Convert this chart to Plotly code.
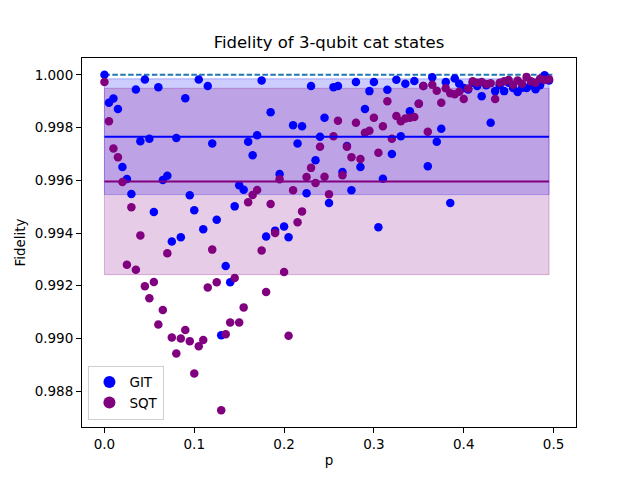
"""Fidelity of 3-qubit cat states.

Scatter of GIT and SQT fidelities against the error rate p, with the
mean of each series drawn as a line and a band of one standard deviation.
"""

import numpy as np
import plotly.graph_objects as go

# error rate p, step 0.005
p_values = [round(0.005 * k, 3) for k in range(100)]

git_fidelity = [
    1.00000, 0.99894, 0.99910, 0.99870, 0.99650, 0.99605, 0.99548, 0.99944, 0.99748, 0.99982,
    0.99757, 0.99480, 0.99953, 0.99601, 0.99617, 0.99368, 0.99760, 0.99384, 0.99911, 0.99543,
    0.99486, 0.99982, 0.99414, 0.99957, 0.99739, 0.99450, 0.99012, 0.99275, 0.99213, 0.99501,
    0.99581, 0.99564, 0.99746, 0.99695, 0.99771, 0.99978, 0.99387, 0.99858, 0.99409, 0.99624,
    0.99425, 0.99384, 0.99809, 0.99739, 0.99805, 0.99551, 0.99957, 0.99676, 0.99765, 0.99837,
    0.99514, 0.99953, 0.99957, 0.99631, 0.99730, 0.99562, 0.99973, 0.99650, 0.99870, 0.99938,
    0.99973, 0.99422, 0.99606, 0.99943, 0.99700, 0.99981, 0.99767, 0.99966, 0.99862, 0.99976,
    0.99890, 0.99957, 0.99653, 0.99991, 0.99746, 0.99795, 0.99973, 0.99514, 0.99986, 0.99966,
    0.99950, 0.99944, 0.99970, 0.99957, 0.99919, 0.99960, 0.99818, 0.99938, 0.99960, 0.99938,
    0.99970, 0.99950, 0.99935, 0.99951, 0.99950, 0.99960, 0.99945, 0.99960, 0.99998, 0.99978,
]

sqt_fidelity = [
    0.99973, 0.99824, 0.99720, 0.99687, 0.99593, 0.99280, 0.99498, 0.99261, 0.99391, 0.99198,
    0.99153, 0.99214, 0.99053, 0.99108, 0.99323, 0.99004, 0.98943, 0.99000, 0.99032, 0.98990,
    0.98867, 0.98971, 0.98994, 0.99193, 0.99337, 0.99213, 0.98728, 0.99016, 0.99061, 0.99229,
    0.99061, 0.99118, 0.99517, 0.99544, 0.99563, 0.99334, 0.99176, 0.99510, 0.99400, 0.99604,
    0.99252, 0.99010, 0.99562, 0.99441, 0.99482, 0.99612, 0.99647, 0.99590, 0.99727, 0.99613,
    0.99547, 0.99767, 0.99826, 0.99619, 0.99727, 0.99687, 0.99818, 0.99681, 0.99780, 0.99788,
    0.99837, 0.99704, 0.99805, 0.99900, 0.99757, 0.99844, 0.99824, 0.99834, 0.99837, 0.99840,
    0.99890, 0.99957, 0.99784, 0.99962, 0.99939, 0.99894, 0.99949, 0.99930, 0.99926, 0.99936,
    0.99908, 0.99948, 0.99975, 0.99970, 0.99973, 0.99965, 0.99968, 0.99908, 0.99970, 0.99975,
    0.99980, 0.99962, 0.99978, 0.99966, 0.99992, 0.99975, 0.99970, 0.99985, 0.99980, 0.99983,
]

ideal_fidelity = 1.0
ideal_span = [0.0, 0.5]

x_ticks = [0.0, 0.1, 0.2, 0.3, 0.4, 0.5]
y_ticks = [0.988, 0.990, 0.992, 0.994, 0.996, 0.998, 1.000]

FONT = "DejaVu Sans, Liberation Sans, sans-serif"


def _band_traces(x, values, color, fill_rgba, line_rgba):
    """Return the mean line and the one-sigma band for a series."""
    arr = np.asarray(values)
    mean, std = arr.mean(), arr.std()
    x0, x1 = x[0], x[-1]
    band = go.Scatter(
        x=[x0, x1, x1, x0, x0],
        y=[mean - std, mean - std, mean + std, mean + std, mean - std],
        mode="lines",
        fill="toself",
        fillcolor=fill_rgba,
        line=dict(color=line_rgba, width=1),
        hoverinfo="skip",
        showlegend=False,
    )
    line = go.Scatter(
        x=[x0, x1],
        y=[mean, mean],
        mode="lines",
        line=dict(color=color, width=2),
        showlegend=False,
    )
    return band, line, mean - std


def _padded(lo, hi, frac=0.05):
    pad = (hi - lo) * frac
    return [lo - pad, hi + pad]


git_band, git_line, git_low = _band_traces(
    p_values, git_fidelity, "blue", "rgba(0,0,255,0.2)", "rgba(0,0,255,0.25)"
)
sqt_band, sqt_line, sqt_low = _band_traces(
    p_values, sqt_fidelity, "purple", "rgba(128,0,128,0.2)", "rgba(128,0,128,0.25)"
)

fig = go.Figure()
fig.add_trace(git_band)
fig.add_trace(sqt_band)
fig.add_trace(
    go.Scatter(
        x=ideal_span,
        y=[ideal_fidelity, ideal_fidelity],
        mode="lines",
        line=dict(color="#1f77b4", width=2, dash="5.5px,2.4px"),
        showlegend=False,
    )
)
fig.add_trace(
    go.Scatter(
        x=p_values, y=git_fidelity, mode="markers", name="GIT",
        marker=dict(color="blue", size=8.5, line=dict(width=0)),
    )
)
fig.add_trace(
    go.Scatter(
        x=p_values, y=sqt_fidelity, mode="markers", name="SQT",
        marker=dict(color="purple", size=8.5, line=dict(width=0)),
    )
)
fig.add_trace(git_line)
fig.add_trace(sqt_line)

y_lo = min(min(git_fidelity), min(sqt_fidelity), git_low, sqt_low)
y_hi = max(max(git_fidelity), max(sqt_fidelity), ideal_fidelity)

axis_style = dict(
    showline=True, linecolor="black", linewidth=1, mirror=True,
    ticks="outside", ticklen=5, tickwidth=1, tickcolor="black",
    showgrid=False, zeroline=False,
    tickfont=dict(family=FONT, size=13.5, color="black"),
)

# the page puts the figure 8px in from the top-left corner
fig.update_layout(
    width=632,
    height=472,
    margin=dict(l=72, r=64, t=50, b=53),
    paper_bgcolor="white",
    plot_bgcolor="white",
    font=dict(family=FONT, color="black"),
    title=dict(
        text="Fidelity of 3-qubit cat states",
        x=0.5, xanchor="center", y=0.927, yanchor="middle",
        xref="paper", yref="container",
        font=dict(family=FONT, size=16.5, color="black"),
    ),
    xaxis=dict(
        range=_padded(ideal_span[0], ideal_span[1]),
        tickvals=x_ticks,
        tickformat=".1f",
        title=dict(text="p", font=dict(family=FONT, size=13.5), standoff=4),
        **axis_style,
    ),
    yaxis=dict(
        range=_padded(y_lo, y_hi),
        tickvals=y_ticks,
        tickformat=".3f",
        title=dict(text="Fidelity", font=dict(family=FONT, size=13.5), standoff=5),
        **axis_style,
    ),
    legend=dict(
        x=0.013, y=0.02, xanchor="left", yanchor="bottom",
        bgcolor="rgba(255,255,255,0.8)",
        bordercolor="#d0d0d0", borderwidth=1,
        font=dict(family=FONT, size=13.5, color="black"),
        itemsizing="constant",
        tracegroupgap=0,
    ),
    showlegend=True,
)

fig.write_html("out.html")
